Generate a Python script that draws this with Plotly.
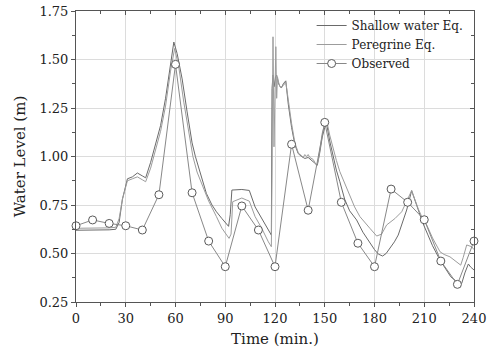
import plotly.graph_objects as go

# ---------------- data ----------------
obs_time = [0, 10, 20, 30, 40, 50, 60, 70, 80, 90, 100, 110, 120,
            130, 140, 150, 160, 170, 180, 190, 200, 210, 220, 230, 240]
obs_level = [0.643, 0.673, 0.655, 0.643, 0.621, 0.803, 1.475, 0.813, 0.564,
             0.432, 0.745, 0.621, 0.432, 1.063, 0.723, 1.176, 0.764, 0.553,
             0.432, 0.832, 0.764, 0.674, 0.461, 0.341, 0.564]

sw_time = [0, 10, 20, 24, 26, 28, 31, 34, 37, 40, 42, 45, 48, 51, 54, 57, 59,
           61, 64, 67, 70, 72, 74.6, 76, 78.6, 82, 84.7, 88, 90.7, 92, 93, 94,
           100, 104.5, 108, 112, 116, 117.8, 118.2, 118.8, 119.5, 120.3, 121,
           122, 123, 124, 125, 126.5, 128, 130, 132, 134, 136, 138, 140, 142,
           144, 145.5, 147, 148.5, 150, 151, 153, 155, 157, 159.1, 162, 165,
           169.2, 173, 177.2, 180, 182.3, 184.9, 187, 189.3, 192, 194.3, 197,
           199.4, 202.4, 206.4, 209, 212, 215, 219.5, 223, 226, 229.6, 232.6,
           234.5, 236.6, 238, 240]
sw_level = [0.62, 0.62, 0.622, 0.625, 0.66, 0.78, 0.885, 0.895, 0.915, 0.90,
            0.89, 0.97, 1.07, 1.16, 1.30, 1.48, 1.59, 1.53, 1.40, 1.23, 1.07,
            1.00, 0.93, 0.88, 0.81, 0.75, 0.715, 0.68, 0.655, 0.64, 0.70, 0.827,
            0.83, 0.825, 0.74, 0.68, 0.62, 0.595, 1.35, 1.42, 1.36, 1.41, 1.42,
            1.38, 1.36, 1.355, 1.375, 1.39, 1.27, 1.15, 1.06, 1.015, 1.0, 0.99,
            0.995, 0.98, 0.965, 0.955, 1.02, 1.10, 1.15, 1.175, 1.08, 1.0, 0.93,
            0.87, 0.78, 0.72, 0.673, 0.61, 0.553, 0.52, 0.497, 0.487, 0.50,
            0.527, 0.56, 0.595, 0.66, 0.724, 0.824, 0.72, 0.66, 0.60, 0.54,
            0.466, 0.42, 0.38, 0.355, 0.346, 0.40, 0.446, 0.43, 0.415]

pe_time = [0, 10, 20, 24, 26, 28, 31, 34, 37, 40, 42, 45, 48, 51, 54, 57, 59.5,
           62, 65, 68, 70.5, 73, 76.6, 80, 84.7, 88, 92.3, 93.5, 94.5, 97, 100,
           103, 104.5, 108, 112, 116, 117.8, 118.2, 118.8, 119.4, 120.0, 120.5,
           121.0, 121.5, 122.5, 123.5, 124.5, 125.5, 126.5, 128, 130, 132, 134,
           135, 136, 137, 138, 139, 140, 141, 142, 143, 144, 145, 146, 147,
           148.5, 150, 151, 153, 155, 157, 159.1, 162, 165.1, 168, 171.2, 174,
           177.2, 181.3, 184.3, 187.3, 190, 192.3, 196.4, 200.4, 202.4, 206.4,
           209, 211.5, 215, 219.5, 222, 225.5, 229, 232, 233.5, 235.6, 238.6, 240]
pe_level = [0.63, 0.63, 0.632, 0.635, 0.68, 0.78, 0.875, 0.885, 0.895, 0.88,
            0.87, 0.94, 1.04, 1.13, 1.26, 1.44, 1.557, 1.46, 1.28, 1.12, 1.00,
            0.92, 0.844, 0.77, 0.69, 0.63, 0.578, 0.60, 0.767, 0.775, 0.786,
            0.775, 0.77, 0.69, 0.63, 0.56, 0.535, 0.90, 1.617, 1.05, 1.45,
            1.566, 1.30, 1.41, 1.37, 1.355, 1.365, 1.37, 1.385, 1.29, 1.17,
            1.07, 1.02, 1.01, 1.005, 0.995, 1.01, 1.0, 1.01, 0.995, 0.99, 0.985,
            0.97, 0.955, 0.975, 1.04, 1.12, 1.17, 1.19, 1.11, 1.04, 0.98, 0.922,
            0.86, 0.793, 0.74, 0.69, 0.66, 0.63, 0.59, 0.60, 0.647, 0.665, 0.68,
            0.715, 0.785, 0.824, 0.73, 0.68, 0.647, 0.58, 0.509, 0.495, 0.483,
            0.46, 0.44, 0.48, 0.544, 0.535, 0.52]

x_ticks = [0, 30, 60, 90, 120, 150, 180, 210, 240]
y_ticks = [0.25, 0.50, 0.75, 1.00, 1.25, 1.50, 1.75]
y_tick_text = ["0.25", "0.50", "0.75", "1.00", "1.25", "1.50", "1.75"]

FONT = "DejaVu Serif"

fig = go.Figure()
fig.add_trace(go.Scatter(x=sw_time, y=sw_level, mode="lines",
                         name="Shallow water Eq.",
                         line=dict(color="#6a6a6a", width=1)))
fig.add_trace(go.Scatter(x=pe_time, y=pe_level, mode="lines",
                         name="Peregrine Eq.",
                         line=dict(color="#9c9c9c", width=1)))
fig.add_trace(go.Scatter(x=obs_time, y=obs_level, mode="lines+markers",
                         name="Observed", cliponaxis=False,
                         line=dict(color="#888888", width=1),
                         marker=dict(symbol="circle", size=8, color="white",
                                     line=dict(color="#5a5a5a", width=1))))
# empty trace to host the mirrored (inside-tick) top/right axes
fig.add_trace(go.Scatter(x=[], y=[], xaxis="x2", yaxis="y2",
                         showlegend=False, hoverinfo="skip"))

axis_common = dict(showline=True, linecolor="#555555", linewidth=1,
                   ticks="outside", ticklen=4, tickcolor="#555555",
                   tickfont=dict(family=FONT, size=13, color="#222222"),
                   gridcolor="#dcdcdc", gridwidth=1, zeroline=False,
                   automargin=False)

fig.update_layout(
    width=493, height=351,
    margin=dict(l=76, r=19, t=11, b=49),
    paper_bgcolor="white", plot_bgcolor="white",
    font=dict(family=FONT, color="#222222"),
    showlegend=True,
    legend=dict(x=0.592, y=1.0, xanchor="left", yanchor="top",
                bgcolor="rgba(0,0,0,0)", borderwidth=0,
                font=dict(family=FONT, size=12, color="#222222"),
                tracegroupgap=0),
    xaxis=dict(range=[0, 240], tickmode="array", tickvals=x_ticks,
               ticktext=[str(v) for v in x_ticks],
               minor=dict(dtick=15, tick0=0, ticks="outside", ticklen=3,
                          tickcolor="#555555", showgrid=False),
               title=dict(text="Time (min.)", font=dict(family=FONT, size=15),
                          standoff=8),
               **axis_common),
    yaxis=dict(range=[0.25, 1.75], tickmode="array", tickvals=y_ticks,
               ticktext=y_tick_text,
               minor=dict(dtick=0.125, tick0=0.25, ticks="outside", ticklen=3,
                          tickcolor="#555555", showgrid=False),
               title=dict(text="Water Level (m)",
                          font=dict(family=FONT, size=15), standoff=10),
               **axis_common),
    xaxis2=dict(overlaying="x", side="top", anchor="y", range=[0, 240],
                showline=True, linecolor="#555555", linewidth=1,
                ticks="inside", ticklen=4, tickcolor="#555555",
                tickmode="array", tickvals=x_ticks, showticklabels=False,
                minor=dict(dtick=15, tick0=0, ticks="inside", ticklen=3,
                           tickcolor="#555555", showgrid=False),
                showgrid=False, zeroline=False, automargin=False),
    yaxis2=dict(overlaying="y", side="right", anchor="x", range=[0.25, 1.75],
                showline=True, linecolor="#555555", linewidth=1,
                ticks="inside", ticklen=4, tickcolor="#555555",
                tickmode="array", tickvals=y_ticks, showticklabels=False,
                minor=dict(dtick=0.125, tick0=0.25, ticks="inside", ticklen=3,
                           tickcolor="#555555", showgrid=False),
                showgrid=False, zeroline=False, automargin=False),
)

fig.write_html("out.html",
               config={"displayModeBar": False},
               post_script="document.body.style.margin='0';"
                           "document.body.style.padding='0';"
                           "document.body.style.overflow='hidden';")
